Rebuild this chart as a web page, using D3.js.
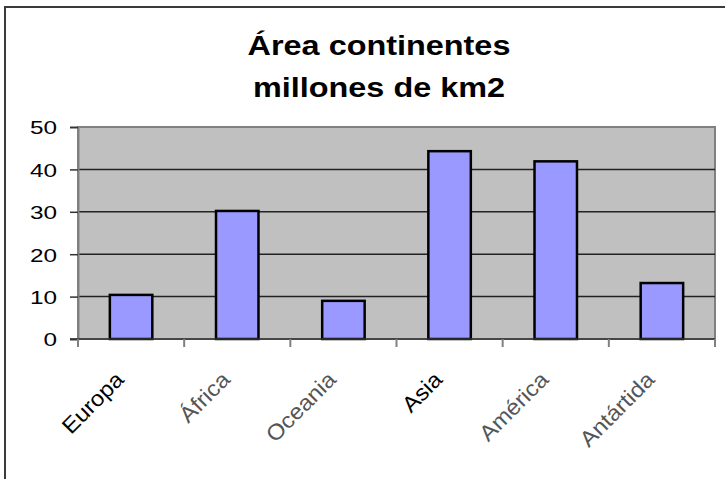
<!DOCTYPE html>
<html>
<head>
<meta charset="utf-8">
<script src="https://cdn.jsdelivr.net/npm/d3@7"></script>
<style>
  body { margin: 0; background: #fff; }
  svg { display: block; font-family: "Liberation Sans", Arial, sans-serif; }
</style>
</head>
<body>
<svg width="725" height="479"></svg>
<script>
// datos
var continentes = ["Europa", "África", "Oceania", "Asia", "América", "Antártida"];
var area = [10.4, 30.2, 9.0, 44.3, 41.9, 13.2];
var yTicks = [0, 10, 20, 30, 40, 50];
var tituloLineas = ["Área continentes", "millones de km2"];

var svg = d3.select("svg"),
    margin = { top: 127, right: 10, bottom: 140, left: 78 },
    width = 715 - margin.left,
    height = 339 - margin.top;

// marco exterior (se corta a la derecha y abajo)
svg.append("rect")
    .attr("x", 5).attr("y", 7)
    .attr("width", 740).attr("height", 500)
    .attr("fill", "none")
    .attr("stroke", "#3a3a3a")
    .attr("stroke-width", 2);

// titulo
svg.selectAll(".titulo")
    .data(tituloLineas)
    .enter().append("text")
    .attr("transform", function (d, i) {
        return "translate(379," + (55 + i * 42) + ") scale(1.2,1)";
    })
    .attr("text-anchor", "middle")
    .style("font-size", "27px")
    .style("font-weight", "bold")
    .text(function (d) { return d; });

var x = d3.scaleBand().domain(continentes).range([0, width])
    .paddingInner(0.6).paddingOuter(0.3);
var xTick = d3.scaleBand().domain(continentes).range([0, width]);
var y = d3.scaleLinear().domain([0, 50]).range([height, 0]);

var g = svg.append("g")
    .attr("transform", "translate(" + margin.left + "," + margin.top + ")");

// fondo del area de trazado
g.append("rect")
    .attr("width", width).attr("height", height)
    .attr("fill", "#c0c0c0")
    .attr("stroke", "#808080")
    .attr("stroke-width", 2);

// lineas de division
g.selectAll(".grid")
    .data(yTicks.slice(1, -1))
    .enter().append("line")
    .attr("x1", 0).attr("x2", width)
    .attr("y1", function (d) { return y(d); })
    .attr("y2", function (d) { return y(d); })
    .attr("stroke", "#222")
    .attr("stroke-width", 1.5);

// barras
g.selectAll(".bar")
    .data(area)
    .enter().append("rect")
    .attr("x", function (d, i) { return x(continentes[i]); })
    .attr("y", function (d) { return y(d); })
    .attr("width", x.bandwidth())
    .attr("height", function (d) { return height - y(d); })
    .attr("fill", "#9999ff")
    .attr("stroke", "#000")
    .attr("stroke-width", 2.5);

// eje Y
var yAxis = g.append("g")
    .call(d3.axisLeft(y).tickValues(yTicks).tickSize(8));
yAxis.select(".domain").attr("stroke", "#808080").attr("stroke-width", 2);
yAxis.selectAll(".tick line").attr("stroke", "#333").attr("stroke-width", 1.5);
yAxis.selectAll(".tick text")
    .attr("x", 0)
    .attr("dy", "0.36em")
    .attr("transform", "translate(-21,0) scale(1.28,1)")
    .style("font-size", "19px")
    .style("font-family", "Liberation Sans, Arial, sans-serif")
    .attr("fill", "#000");

// eje X
var xAxis = g.append("g")
    .attr("transform", "translate(0," + height + ")");
xAxis.append("line")
    .attr("x1", -8).attr("x2", width)
    .attr("stroke", "#333").attr("stroke-width", 1.5);
xAxis.selectAll(".xt")
    .data(continentes.concat(["fin"]))
    .enter().append("line")
    .attr("x1", function (d, i) { return i * xTick.step(); })
    .attr("x2", function (d, i) { return i * xTick.step(); })
    .attr("y1", 0).attr("y2", 8)
    .attr("stroke", "#808080").attr("stroke-width", 2);

xAxis.selectAll(".lbl")
    .data(continentes)
    .enter().append("text")
    .attr("transform", function (d) {
        var cx = xTick(d) + xTick.bandwidth() / 2;
        return "translate(" + (cx - 6) + ",42) rotate(-45) scale(1.08,1)";
    })
    .attr("text-anchor", "end")
    .style("font-size", "22px")
    .attr("fill", function (d, i) { return (i === 0 || i === 3) ? "#000" : "#555"; })
    .text(function (d) { return d; });
</script>
</body>
</html>
